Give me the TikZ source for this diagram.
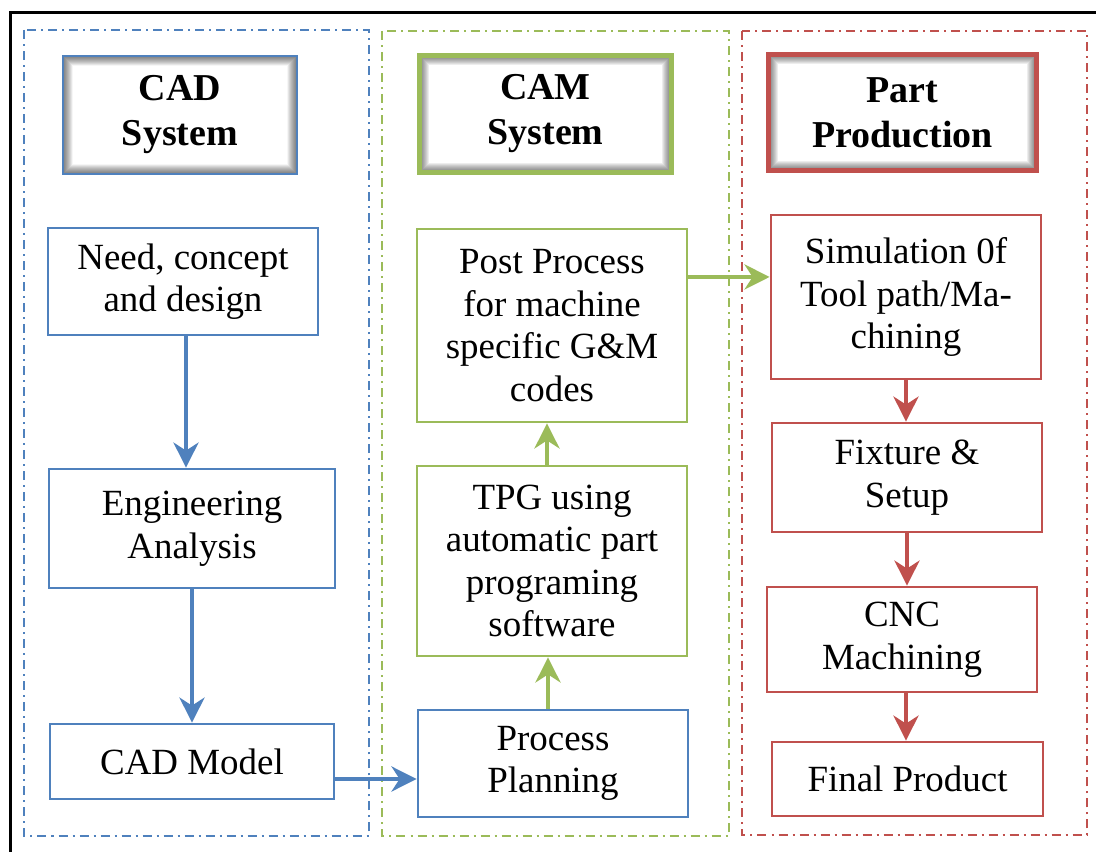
\documentclass[tikz,border=0pt]{standalone}
\usepackage{fontspec}
\setmainfont{Liberation Serif}
\usetikzlibrary{arrows.meta}

\definecolor{cadblue}{RGB}{79,129,189}
\definecolor{camgreen}{RGB}{155,187,89}
\definecolor{partred}{RGB}{192,80,77}

\begin{document}
\begin{tikzpicture}[
    x=0.01cm, y=-0.01cm,
    >={Stealth[length=0.25cm, width=0.25cm, inset=0.08cm]},
    column/.style={line width=0.02cm, dash pattern=on 0.09cm off 0.05cm on 0.02cm off 0.05cm},
    stage/.style={draw, line width=0.027cm, inner sep=0pt, align=center,
      font=\fontsize{10.5pt}{12.1pt}\selectfont},
    header/.style={draw, inner sep=0pt, align=center,
      font=\fontsize{10.8pt}{12.8pt}\selectfont\bfseries,
      path picture={
        \foreach \w in {1,...,20}
          \draw[black, opacity=0.035, line width=\w*0.01cm]
            (path picture bounding box.south west) rectangle (path picture bounding box.north east);
      }},
    flow/.style={->, line width=0.04cm},
  ]
  \useasboundingbox (0,0) rectangle (1096,852);
  % frame
  \draw[line width=0.027cm] (10.5,852) -- (10.5,12.5) -- (1096,12.5);
  % columns
  \draw[column, cadblue] (24,30) rectangle (369,836);
  \draw[column, camgreen] (382,31) rectangle (729,836);
  \draw[column, partred] (742,31) rectangle (1087,835);
  % headers
  \node[header, draw=cadblue, line width=0.02cm, minimum width=2.34cm, minimum height=1.18cm] (cadhead) at (180,115) {CAD\\System};
  \node[header, draw=camgreen, line width=0.05cm, minimum width=2.52cm, minimum height=1.17cm] (camhead) at (545.5,114) {CAM\\System};
  \node[header, draw=partred, line width=0.05cm, minimum width=2.68cm, minimum height=1.16cm] (parthead) at (902.5,112.5) {Part\\Production};
  % CAD system
  \node[stage, draw=cadblue, minimum width=2.7cm, minimum height=1.07cm] (need) at (183,281.5) {Need, concept\\and design};
  \node[stage, draw=cadblue, minimum width=2.86cm, minimum height=1.19cm] (eng) at (192,528.5) {Engineering\\Analysis};
  \node[stage, draw=cadblue, minimum width=2.84cm, minimum height=0.75cm] (cadmodel) at (192,761.5) {CAD Model};
  % CAM system
  \node[stage, draw=cadblue, minimum width=2.7cm, minimum height=1.07cm] (procplan) at (553,763.5) {Process\\Planning};
  \node[stage, draw=camgreen, minimum width=2.7cm, minimum height=1.9cm] (tpg) at (552,561) {TPG using\\automatic part\\programing\\software};
  \node[stage, draw=camgreen, minimum width=2.7cm, minimum height=1.93cm] (post) at (552,325.5) {Post Process\\for machine\\specific G\&M\\codes};
  % part production
  \node[stage, draw=partred, minimum width=2.7cm, minimum height=1.64cm] (sim) at (906,297) {Simulation 0f\\Tool path/Ma-\\chining};
  \node[stage, draw=partred, minimum width=2.7cm, minimum height=1.09cm] (fixture) at (907,477.5) {Fixture \&\\Setup};
  \node[stage, draw=partred, minimum width=2.7cm, minimum height=1.05cm] (cnc) at (902,639.5) {CNC\\Machining};
  \node[stage, draw=partred, minimum width=2.71cm, minimum height=0.74cm] (final) at (907.5,779) {Final Product};
  % arrows
  \draw[flow, cadblue] ([xshift=0.03cm]need.south) -- ([xshift=0.03cm]need.south |- eng.north);
  \draw[flow, cadblue] (eng.south) -- (eng.south |- cadmodel.north);
  \draw[flow, cadblue] ([yshift=-0.175cm]cadmodel.east) -- ([yshift=-0.175cm]cadmodel.east -| procplan.west);
  \draw[flow, camgreen] ([xshift=-0.05cm]procplan.north) -- ([xshift=-0.05cm]procplan.north |- tpg.south);
  \draw[flow, camgreen] ([xshift=-0.05cm]tpg.north) -- ([xshift=-0.05cm]tpg.north |- post.south);
  \draw[flow, camgreen] ([yshift=0.485cm]post.east) -- ([yshift=0.485cm]post.east -| sim.west);
  \draw[flow, partred] (sim.south) -- (sim.south |- fixture.north);
  \draw[flow, partred] (fixture.south) -- (fixture.south |- cnc.north);
  \draw[flow, partred] ([xshift=0.04cm]cnc.south) -- ([xshift=0.04cm]cnc.south |- final.north);
\end{tikzpicture}
\end{document}
